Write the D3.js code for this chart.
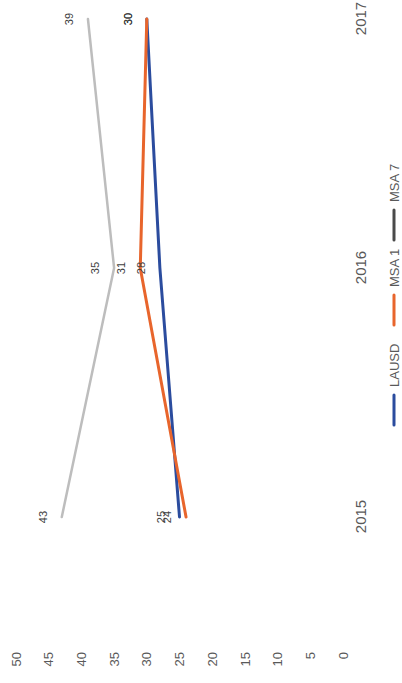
<!DOCTYPE html>
<html>
<head>
<meta charset="utf-8">
<script src="https://cdn.jsdelivr.net/npm/d3@7"></script>
<style>
  html, body { margin: 0; padding: 0; background: #fff; }
  svg { display: block; font-family: "Liberation Sans", Arial, sans-serif; }
</style>
</head>
<body>
<svg id="chart" width="402" height="683"></svg>
<script>
// ---- data ----
const years = ["2015", "2016", "2017"];
const seriesNames = ["LAUSD", "MSA 1", "MSA 7"];
const lausd = [25, 28, 30];
const msa1 = [24, 31, 30];
const msa7 = [43, 35, 39];
const valueTicks = [0, 5, 10, 15, 20, 25, 30, 35, 40, 45, 50];
const seriesColors = ["#2B4C9E", "#E8652C", "#BDBDBD"];
const legendColors = ["#2B4C9E", "#E8652C", "#4a4a4a"];

const series = [lausd, msa1, msa7].map((vals, i) => ({
  name: seriesNames[i],
  color: seriesColors[i],
  legendColor: legendColors[i],
  values: vals.map((v, j) => ({ year: years[j], value: v }))
}));

// ---- chart drawn in unrotated space (683 wide x 402 tall), then rotated -90deg ----
const W = 683, H = 402;
const svg = d3.select("#chart");
const g = svg.append("g").attr("transform", `translate(0,${W}) rotate(-90)`);

const x = d3.scalePoint().domain(years).range([166, 664]);
const y = d3.scaleLinear().domain([0, 50]).range([343, 16]);

// value axis (labels only)
const yAxis = g.append("g")
  .attr("transform", "translate(31,0)")
  .call(d3.axisLeft(y).tickValues(valueTicks).tickSize(0).tickPadding(0));
yAxis.select(".domain").remove();
yAxis.selectAll("text")
  .attr("fill", "#595959")
  .style("font-size", "13px")
  .style("font-family", "Liberation Sans, Arial, sans-serif");

// category axis (labels only)
const xAxis = g.append("g")
  .attr("transform", "translate(0,354)")
  .call(d3.axisBottom(x).tickSize(0).tickPadding(1));
xAxis.select(".domain").remove();
xAxis.selectAll("text")
  .attr("fill", "#595959")
  .style("font-size", "15px")
  .style("font-family", "Liberation Sans, Arial, sans-serif");

// lines
const line = d3.line().x(d => x(d.year)).y(d => y(d.value));
g.selectAll(".series")
  .data(series)
  .join("path")
  .attr("class", "series")
  .attr("fill", "none")
  .attr("stroke", d => d.color)
  .attr("stroke-width", d => d.name === "MSA 7" ? 2.5 : 3)
  .attr("stroke-linecap", "round")
  .attr("stroke-linejoin", "round")
  .attr("d", d => line(d.values));

// data labels
series.forEach(s => {
  g.selectAll(null)
    .data(s.values)
    .join("text")
    .attr("x", d => x(d.year))
    .attr("y", d => y(d.value) - 15)
    .attr("text-anchor", "middle")
    .attr("fill", "#404040")
    .style("font-size", "11px")
    .text(d => d.value);
});

// legend
const legendX = [258, 358, 443];
const leg = g.append("g").attr("class", "legend");
series.forEach((s, i) => {
  leg.append("line")
    .attr("x1", legendX[i]).attr("x2", legendX[i] + 30)
    .attr("y1", 394).attr("y2", 394)
    .attr("stroke", s.legendColor)
    .attr("stroke-width", 3)
    .attr("stroke-linecap", "round");
  leg.append("text")
    .attr("x", legendX[i] + 38)
    .attr("y", 399)
    .attr("fill", "#595959")
    .style("font-size", "13px")
    .text(s.name);
});
</script>
</body>
</html>
